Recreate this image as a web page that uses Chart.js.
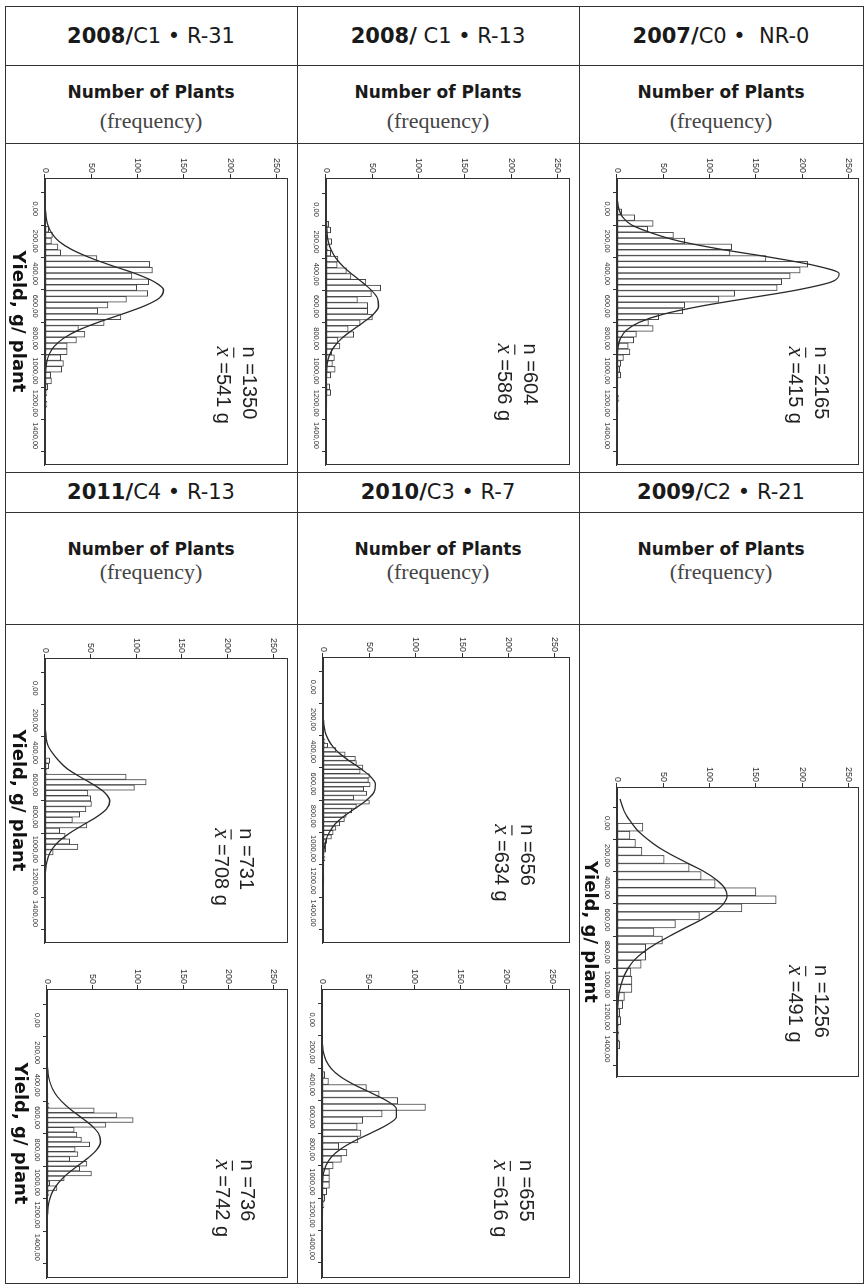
<!DOCTYPE html>
<html>
<head>
<meta charset="utf-8">
<script src="https://cdn.jsdelivr.net/npm/chart.js@4.4.1/dist/chart.umd.min.js"></script>
<style>
  html, body { margin: 0; padding: 0; background: #fff; }
  #page { position: relative; width: 865px; height: 1288px; overflow: hidden; background: #fff; }
  .hl { position: absolute; height: 1px; background: #333; }
  .vl { position: absolute; width: 1px; background: #333; }
  .cab { position: absolute; height: 40px; line-height: 40px; text-align: center; font-family: "DejaVu Sans"; font-size: 21px; color: #1a1a1a; white-space: pre; }
  .num { position: absolute; height: 20px; line-height: 20px; text-align: center; font-family: "DejaVu Sans"; font-weight: bold; font-size: 17px; color: #1a1a1a; }
  .freq { position: absolute; height: 26px; line-height: 26px; text-align: center; font-family: "Liberation Serif"; font-size: 22px; color: #444; }
  canvas { position: absolute; transform: rotate(90deg); }
</style>
</head>
<body>
<div id="page">
  <!-- grade da tabela -->
  <div class="hl" style="left:5px;width:858px;top:6px"></div>
  <div class="hl" style="left:5px;width:858px;top:65px"></div>
  <div class="hl" style="left:5px;width:858px;top:143px"></div>
  <div class="hl" style="left:5px;width:858px;top:472px"></div>
  <div class="hl" style="left:5px;width:858px;top:512px"></div>
  <div class="hl" style="left:5px;width:858px;top:624px"></div>
  <div class="hl" style="left:5px;width:858px;top:1283px"></div>
  <div class="vl" style="left:5px;top:6px;height:1278px"></div>
  <div class="vl" style="left:297px;top:6px;height:1278px"></div>
  <div class="vl" style="left:579px;top:6px;height:1278px"></div>
  <div class="vl" style="left:863px;top:6px;height:1278px"></div>

  <!-- linha 1 -->
  <div class="cab" style="left:5px;width:292px;top:16px"><b>2008/</b>C1 • R-31</div>
  <div class="cab" style="left:297px;width:282px;top:16px"><b>2008/</b> C1 • R-13</div>
  <div class="cab" style="left:579px;width:284px;top:16px"><b>2007/</b>C0 •  NR-0</div>
  <div class="num" style="left:5px;width:292px;top:82px">Number of Plants</div>
  <div class="num" style="left:297px;width:282px;top:82px">Number of Plants</div>
  <div class="num" style="left:579px;width:284px;top:82px">Number of Plants</div>
  <div class="freq" style="left:5px;width:292px;top:108px">(frequency)</div>
  <div class="freq" style="left:297px;width:282px;top:108px">(frequency)</div>
  <div class="freq" style="left:579px;width:284px;top:108px">(frequency)</div>

  <!-- linha 2 -->
  <div class="cab" style="left:5px;width:292px;top:472px"><b>2011/</b>C4 • R-13</div>
  <div class="cab" style="left:297px;width:282px;top:472px"><b>2010/</b>C3 • R-7</div>
  <div class="cab" style="left:579px;width:284px;top:472px"><b>2009/</b>C2 • R-21</div>
  <div class="num" style="left:5px;width:292px;top:539px">Number of Plants</div>
  <div class="num" style="left:297px;width:282px;top:539px">Number of Plants</div>
  <div class="num" style="left:579px;width:284px;top:539px">Number of Plants</div>
  <div class="freq" style="left:5px;width:292px;top:559px">(frequency)</div>
  <div class="freq" style="left:297px;width:282px;top:559px">(frequency)</div>
  <div class="freq" style="left:579px;width:284px;top:559px">(frequency)</div>
</div>

<script>
// Eixos
const yieldTicks = [0, 200, 400, 600, 800, 1000, 1200, 1400];
const freqTicks = [0, 50, 100, 150, 200, 250];

// Pontos da curva normal ajustada (g/planta)
const curveYield = [-150, -100, -50, 0, 50, 100, 150, 200, 250, 300, 350, 400, 450, 500, 550, 600,
    650, 700, 750, 800, 850, 900, 950, 1000, 1050, 1100, 1150, 1200, 1250, 1300, 1350, 1400, 1450];

// 2008/C1 R-31 (n = 1350)
const r31Start = 108, r31Width = 36;
const r31Counts = [4, 8, 7, 14, 17, 56, 113, 116, 94, 112, 99, 111, 88, 68, 57, 82, 64, 36, 43, 34,
    24, 24, 17, 20, 18, 6, 7, 3, 2, 1, 2];
const r31Curve = [0, 0, 0.1, 0.4, 1.2, 3.1, 7.2, 15, 28.5, 48, 72, 98, 118, 128, 123.5, 107, 83, 57.5,
    35.5, 19.7, 9.8, 4.3, 1.7, 0.6, 0.2, 0.1, 0, 0, 0, 0, 0, 0, 0];

// 2008/C1 R-13 (n = 604)
const r13Start = 72, r13Width = 36;
const r13Counts = [3, 5, 0, 6, 2, 5, 13, 12, 22, 27, 43, 59, 49, 34, 45, 45, 50, 37, 24, 30, 13, 15,
    6, 9, 7, 10, 5, 1, 4, 5, 1, 1];
const r13Curve = [0, 0, 0, 0, 0.15, 0.4, 1.1, 2.6, 5.5, 10.5, 18, 28, 39, 49, 55.6, 56.7, 51, 40, 27.6,
    16.6, 8.8, 4, 1.6, 0.6, 0.2, 0.05, 0, 0, 0, 0, 0, 0, 0];

// 2007/C0 NR-0 (n = 2165)
const nr0Start = 0, nr0Width = 36;
const nr0Counts = [5, 19, 39, 33, 61, 73, 124, 122, 161, 206, 198, 187, 178, 173, 127, 110, 73, 71,
    45, 34, 39, 21, 18, 12, 14, 7, 4, 3, 4, 1, 1, 0, 2, 0, 1];
const nr0Curve = [0, 0.1, 0.5, 2, 6, 16, 38, 68, 113, 167, 214, 240, 232, 195, 143, 91, 50, 24, 9.8,
    3.6, 1.2, 0.3, 0.1, 0, 0, 0, 0, 0, 0, 0, 0, 0, 0];

// 2011/C4 R-13, primeiro (n = 731)
const c4aStart = 432.5, c4aWidth = 33.5;
const c4aCounts = [5, 4, 2, 89, 111, 98, 47, 50, 51, 45, 38, 30, 46, 16, 22, 27, 36, 9, 1];
const c4aCurve = [0, 0, 0, 0, 0, 0, 0, 0.1, 0.4, 1.1, 2.8, 8, 15, 24.4, 38.4, 53.6, 65.7, 71, 67.5,
    56.4, 41.4, 27, 15.4, 7.7, 3.4, 1.3, 0.45, 0.1, 0, 0, 0, 0, 0];

// 2011/C4 R-13, segundo (n = 736)
const c4bStart = 450, c4bWidth = 30;
const c4bCounts = [1, 0, 2, 52, 77, 95, 65, 30, 33, 38, 47, 31, 34, 25, 44, 36, 49, 19, 3, 11, 2];
const c4bCurve = [0, 0, 0, 0, 0, 0, 0, 0.1, 0.3, 0.8, 1.9, 4.4, 8.8, 16.1, 26, 38, 49.3, 57, 58.9,
    54.5, 44.9, 33.2, 21.9, 12.9, 6.8, 3.2, 1.3, 0.5, 0.2, 0.05, 0, 0, 0];

// 2010/C3 R-7, primeiro (n = 656)
const c3aStart = 320, c3aWidth = 27;
const c3aCounts = [2, 5, 14, 24, 35, 36, 43, 40, 50, 49, 51, 44, 47, 33, 50, 36, 31, 25, 23, 18, 14,
    11, 9, 4, 3, 3, 1, 2, 1, 1, 0, 1, 1];
const c3aCurve = [0, 0, 0, 0, 0, 0, 0.15, 0.5, 1.4, 3.7, 8.2, 15.8, 26.7, 39.4, 50.6, 56.6, 55.2, 47,
    34.9, 22.6, 12.7, 6.8, 3, 1.2, 0.4, 0.1, 0, 0, 0, 0, 0, 0, 0];

// 2010/C3 R-7, segundo (n = 655)
const c3bStart = 280, c3bWidth = 40;
const c3bCounts = [1, 3, 7, 48, 62, 82, 112, 65, 44, 38, 42, 39, 18, 27, 21, 12, 8, 8, 8, 5, 3, 2, 1];
const c3bCurve = [0, 0, 0, 0, 0, 0.1, 0.5, 1.5, 4.2, 9.7, 19.7, 34.4, 52.7, 70, 80.5, 80.5, 70, 52.7,
    34.4, 19.7, 9.7, 4.2, 1.5, 0.5, 0.1, 0, 0, 0, 0, 0, 0, 0, 0];

// 2009/C2 R-21 (n = 1256)
const c2Start = 0, c2Width = 50;
const c2Counts = [28, 14, 20, 27, 51, 78, 91, 106, 150, 172, 135, 89, 63, 40, 49, 31, 31, 26, 15, 16,
    16, 8, 6, 3, 4, 2, 2, 3, 1];
const c2Curve = [3.5, 6, 10, 16, 23, 33, 45, 60, 77, 94, 107, 116, 119, 115, 105, 90.6, 73.6, 57,
    41.4, 28.5, 18.5, 12, 7.5, 4.5, 2.4, 1.2, 0.5, 0.2, 0.1, 0, 0, 0, 0];

// Paineis: area do grafico na pagina [esq, topo, dir, base] (ja girado)
const paineis = [
    { plot: [45, 178, 291, 465], yMin: -80, yMax: 1470, fMax: 262, titulo: true,
      start: r31Start, width: r31Width, counts: r31Counts, curve: r31Curve, n: 1350, media: 541, textoY: 849 },
    { plot: [326, 178, 573, 465], yMin: -85, yMax: 1472, fMax: 263, titulo: false,
      start: r13Start, width: r13Width, counts: r13Counts, curve: r13Curve, n: 604, media: 586, textoY: 830 },
    { plot: [617, 178, 862, 465], yMin: -80, yMax: 1470, fMax: 261, titulo: false,
      start: nr0Start, width: nr0Width, counts: nr0Counts, curve: nr0Curve, n: 2165, media: 415, textoY: 849 },
    { plot: [45, 658, 291, 943], yMin: -78, yMax: 1472, fMax: 266, titulo: true,
      start: c4aStart, width: c4aWidth, counts: c4aCounts, curve: c4aCurve, n: 731, media: 708, textoY: 870 },
    { plot: [47, 989, 291, 1278], yMin: -82, yMax: 1478, fMax: 265, titulo: true,
      start: c4bStart, width: c4bWidth, counts: c4bCounts, curve: c4bCurve, n: 736, media: 742, textoY: 859 },
    { plot: [323, 657, 573, 943], yMin: -76, yMax: 1474, fMax: 266, titulo: false,
      start: c3aStart, width: c3aWidth, counts: c3aCounts, curve: c3aCurve, n: 656, media: 634, textoY: 849 },
    { plot: [322, 989, 573, 1278], yMin: -78, yMax: 1482, fMax: 268, titulo: false,
      start: c3bStart, width: c3bWidth, counts: c3bCounts, curve: c3bCurve, n: 655, media: 616, textoY: 865 },
    { plot: [617, 787, 862, 1077], yMin: -112, yMax: 1462, fMax: 261, titulo: true,
      start: c2Start, width: c2Width, counts: c2Counts, curve: c2Curve, n: 1256, media: 491, textoY: 880 }
];

// Moldura do grafico e textos n / media
const moldura = {
    id: 'moldura',
    afterDraw(chart, args, opts) {
        const { ctx, chartArea: a } = chart;
        const xs = chart.scales.x, ys = chart.scales.y;
        ctx.save();
        ctx.strokeStyle = '#333';
        ctx.lineWidth = 1;
        ctx.strokeRect(Math.round(a.left) + 0.5, Math.round(a.top) + 0.5,
            Math.round(a.right - a.left) - 1, Math.round(a.bottom - a.top) - 1);

        const x0 = xs.getPixelForValue(opts.textoY);
        ctx.fillStyle = '#222';
        ctx.textAlign = 'left';
        ctx.textBaseline = 'alphabetic';
        ctx.font = '20px "Liberation Sans"';
        ctx.fillText('n =' + opts.n, x0, ys.getPixelForValue(214));

        const yb = ys.getPixelForValue(186);
        ctx.font = 'italic 23px "Liberation Serif"';
        ctx.fillText('x', x0, yb);
        const wx = ctx.measureText('x').width;
        ctx.beginPath();
        ctx.moveTo(x0 + 1, yb - 16.5);
        ctx.lineTo(x0 + wx + 1, yb - 16.5);
        ctx.strokeStyle = '#222';
        ctx.lineWidth = 1.2;
        ctx.stroke();
        ctx.font = '20px "Liberation Sans"';
        ctx.fillText(' =' + opts.media + ' g', x0 + wx, yb);
        ctx.restore();
    }
};

const page = document.getElementById('page');

function criarPainel(p) {
    const L = p.plot[0] - 40, T = p.plot[1] - 28;
    const W = p.plot[2] + 3 - L;
    let H = p.plot[3] + 3 - T;
    if ((W - H) % 2) H += 1;

    const cv = document.createElement('canvas');
    cv.width = H; cv.height = W;
    cv.style.width = H + 'px';
    cv.style.height = W + 'px';
    cv.style.left = (L + (W - H) / 2) + 'px';
    cv.style.top = (T + (H - W) / 2) + 'px';
    page.appendChild(cv);

    const padRight = H - (p.plot[3] - T);
    const padTop = W - (p.plot[2] - L);

    new Chart(cv, {
        type: 'bar',
        data: {
            datasets: [
                {
                    type: 'line',
                    data: curveYield.map((x, i) => ({ x: x, y: p.curve[i] })),
                    borderColor: '#2a2a2a',
                    borderWidth: 1.3,
                    pointRadius: 0,
                    cubicInterpolationMode: 'monotone',
                    fill: false,
                    order: 0
                },
                {
                    type: 'bar',
                    data: p.counts.map((c, i) => ({ x: p.start + p.width * (i + 0.5), y: c })),
                    backgroundColor: '#fff',
                    borderColor: '#444',
                    borderWidth: 1,
                    borderSkipped: false,
                    barPercentage: 1,
                    categoryPercentage: 1,
                    order: 1
                }
            ]
        },
        options: {
            responsive: false,
            animation: false,
            devicePixelRatio: 1,
            layout: { padding: { left: 0, top: padTop, right: padRight, bottom: 0 } },
            plugins: {
                legend: { display: false },
                tooltip: { enabled: false },
                moldura: { n: p.n, media: p.media, textoY: p.textoY }
            },
            scales: {
                x: {
                    type: 'linear',
                    min: p.yMin,
                    max: p.yMax,
                    afterBuildTicks: s => { s.ticks = yieldTicks.map(v => ({ value: v })); },
                    afterFit: s => { s.height = 40; },
                    grid: { drawOnChartArea: false, drawTicks: true, tickLength: 4, color: '#333' },
                    border: { color: '#333' },
                    ticks: {
                        font: { family: 'Liberation Sans', size: 7.5 },
                        color: '#333',
                        padding: 1,
                        maxRotation: 0,
                        autoSkip: false,
                        callback: v => v.toFixed(2).replace('.', ',')
                    },
                    title: {
                        display: p.titulo,
                        text: 'Yield, g/ plant',
                        font: { family: 'DejaVu Sans', size: 18, weight: 'bold' },
                        color: '#111',
                        padding: { top: 0, bottom: 2 }
                    }
                },
                y: {
                    type: 'linear',
                    min: 0,
                    max: p.fMax,
                    afterBuildTicks: s => { s.ticks = freqTicks.map(v => ({ value: v })); },
                    afterFit: s => { s.width = 28; },
                    grid: { drawOnChartArea: false, drawTicks: true, tickLength: 4, color: '#333' },
                    border: { color: '#333' },
                    ticks: {
                        font: { family: 'Liberation Sans', size: 9 },
                        color: '#333',
                        padding: 1,
                        autoSkip: false,
                        callback: v => String(v)
                    }
                }
            }
        },
        plugins: [moldura]
    });
}

paineis.forEach(criarPainel);
</script>
</body>
</html>
